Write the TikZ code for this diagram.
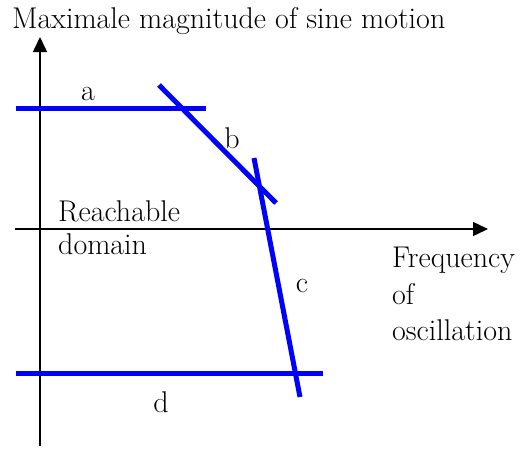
\documentclass[tikz,border=0pt]{standalone}
\usepackage{fontspec}
\usetikzlibrary{arrows.meta}
\tikzset{
  axis/.style={line width=1.6pt, -{Triangle[length=15pt,width=14pt]}},
  bound/.style={line width=5pt, blue},
  lbl/.style={font=\fontsize{30}{36}\selectfont, inner sep=0pt, anchor=base west},
  tag/.style={font=\fontsize{30}{36}\selectfont, inner sep=0pt, anchor=base},
}
\begin{document}
\begin{tikzpicture}[x=1pt,y=-1pt]
\useasboundingbox (0,0) rectangle (531,448);
% axes
\coordinate (yb) at (40,446);
\coordinate (yt) at (40,37);
\coordinate (xl) at (15,229);
\coordinate (xr) at (488,229);
\draw[axis] (yb) -- (yt);
\draw[axis] (xl) -- (xr);
% boundary lines
\coordinate (a1) at (16,108);
\coordinate (a2) at (206,108);
\coordinate (b1) at (159,85);
\coordinate (b2) at (276,203);
\coordinate (c1) at (254,158);
\coordinate (c2) at (300,397);
\coordinate (d1) at (16,373);
\coordinate (d2) at (323,373);
\draw[bound] (a1) -- (a2);
\draw[bound] (b1) -- (b2);
\draw[bound] (c1) -- (c2);
\draw[bound] (d1) -- (d2);
% texts
\node[lbl] (title) at (12,28) {Maximale magnitude of sine motion};
\node[lbl] (reach) at (58,221) {Reachable};
\node[lbl] (dom) at (58,254) {domain};
\node[lbl] (freq) at (392,267) {Frequency};
\node[lbl] (of) at (392,304) {of};
\node[lbl] (osc) at (392,340) {oscillation};
\node[tag] (la) at (88,100) {a};
\node[tag] (lb) at (232,148) {b};
\node[tag] (lc) at (302,292) {c};
\node[tag] (ld) at (161,412) {d};
\end{tikzpicture}
\end{document}
